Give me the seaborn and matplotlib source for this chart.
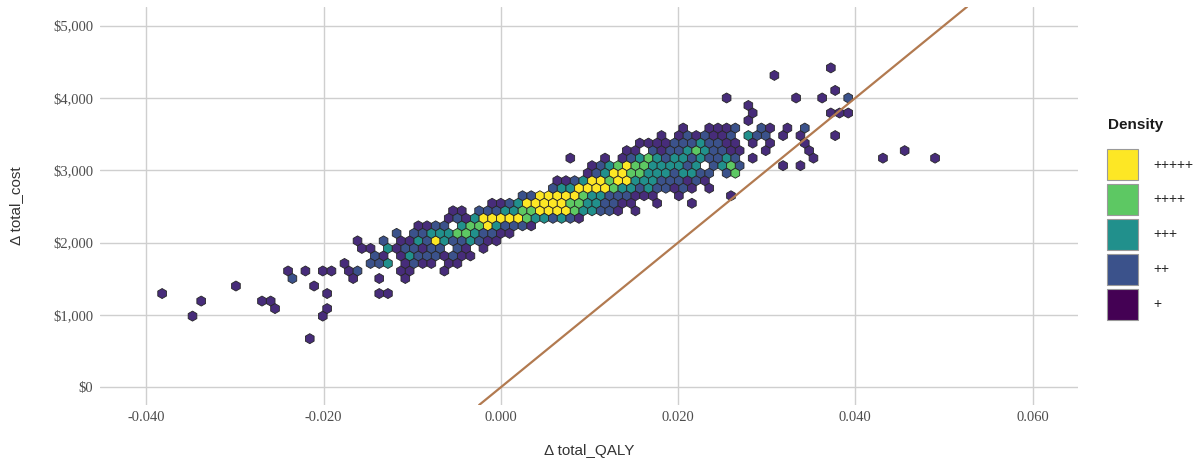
import numpy as np
import pandas as pd
import seaborn as sns
import matplotlib.pyplot as plt
import matplotlib.ticker as ticker
from matplotlib.colors import ListedColormap
from matplotlib.patches import Patch

# Hexagon bins of the incremental cost / QALY cloud.
# One entry per row of bins: the row's delta cost, the delta QALY of each
# occupied bin in that row and its density class (1 = "+" ... 5 = "+++++").
row_cost = [672, 984, 1088, 1192, 1296, 1400, 1504, 1608, 1712, 1816, 1920,
            2024, 2128, 2232, 2336, 2440, 2544, 2648, 2752, 2856, 2960, 3064,
            3168, 3272, 3376, 3480, 3584, 3688, 3792, 3896, 4000, 4104, 4312,
            4416]

row_qaly = [
    [-0.0216],
    [-0.0348, -0.0201],
    [-0.0255, -0.0196],
    [-0.0338, -0.0270, -0.0260],
    [-0.0382, -0.0196, -0.0137, -0.0127],
    [-0.0299, -0.0211],
    [-0.0235, -0.0167, -0.0137, -0.0108],
    [-0.0240, -0.0221, -0.0201, -0.0191, -0.0172, -0.0162, -0.0113, -0.0103, -0.0064],
    [-0.0176, -0.0147, -0.0137, -0.0127, -0.0108, -0.0098, -0.0088, -0.0078, -0.0059, -0.0049],
    [-0.0142, -0.0132, -0.0113, -0.0103, -0.0093, -0.0083, -0.0074, -0.0064, -0.0054, -0.0044,
     -0.0034],
    [-0.0157, -0.0147, -0.0127, -0.0118, -0.0108, -0.0098, -0.0088, -0.0078, -0.0069, -0.0049,
     -0.0039, -0.0020],
    [-0.0162, -0.0132, -0.0113, -0.0103, -0.0093, -0.0083, -0.0074, -0.0064, -0.0054, -0.0044,
     -0.0034, -0.0025, -0.0015, -0.0005],
    [-0.0118, -0.0098, -0.0088, -0.0078, -0.0069, -0.0059, -0.0049, -0.0039, -0.0029, -0.0020,
     -0.0010, 0.0, 0.0010],
    [-0.0093, -0.0083, -0.0074, -0.0064, -0.0044, -0.0034, -0.0025, -0.0015, -0.0005, 0.0005,
     0.0015, 0.0025, 0.0034],
    [-0.0059, -0.0049, -0.0039, -0.0029, -0.0020, -0.0010, 0.0, 0.0010, 0.0020, 0.0029,
     0.0039, 0.0049, 0.0059, 0.0069, 0.0078, 0.0088],
    [-0.0054, -0.0044, -0.0025, -0.0015, -0.0005, 0.0005, 0.0015, 0.0025, 0.0034, 0.0044,
     0.0054, 0.0064, 0.0074, 0.0083, 0.0093, 0.0103, 0.0113, 0.0123, 0.0132, 0.0152],
    [-0.0010, 0.0, 0.0010, 0.0020, 0.0029, 0.0039, 0.0049, 0.0059, 0.0069, 0.0078,
     0.0088, 0.0098, 0.0108, 0.0118, 0.0127, 0.0137, 0.0147, 0.0176, 0.0216],
    [0.0025, 0.0034, 0.0044, 0.0054, 0.0064, 0.0074, 0.0083, 0.0093, 0.0103, 0.0113,
     0.0123, 0.0132, 0.0142, 0.0152, 0.0162, 0.0172, 0.0201, 0.0260],
    [0.0059, 0.0069, 0.0078, 0.0088, 0.0098, 0.0108, 0.0118, 0.0127, 0.0137, 0.0147,
     0.0157, 0.0167, 0.0176, 0.0186, 0.0196, 0.0206, 0.0216, 0.0235],
    [0.0064, 0.0074, 0.0083, 0.0093, 0.0103, 0.0113, 0.0123, 0.0132, 0.0142, 0.0152,
     0.0162, 0.0172, 0.0181, 0.0191, 0.0201, 0.0211, 0.0221, 0.0230],
    [0.0098, 0.0108, 0.0118, 0.0127, 0.0137, 0.0147, 0.0157, 0.0167, 0.0176, 0.0186,
     0.0196, 0.0206, 0.0216, 0.0225, 0.0235, 0.0255, 0.0265],
    [0.0103, 0.0113, 0.0123, 0.0132, 0.0142, 0.0152, 0.0162, 0.0172, 0.0181, 0.0191,
     0.0201, 0.0211, 0.0221, 0.0240, 0.0250, 0.0260, 0.0270, 0.0319, 0.0338],
    [0.0078, 0.0118, 0.0137, 0.0147, 0.0157, 0.0167, 0.0176, 0.0186, 0.0196, 0.0206,
     0.0216, 0.0225, 0.0235, 0.0245, 0.0255, 0.0265, 0.0284, 0.0353, 0.0431, 0.0490],
    [0.0142, 0.0152, 0.0172, 0.0181, 0.0191, 0.0201, 0.0211, 0.0221, 0.0230, 0.0240,
     0.0250, 0.0260, 0.0270, 0.0299, 0.0348, 0.0456],
    [0.0157, 0.0167, 0.0176, 0.0186, 0.0196, 0.0206, 0.0216, 0.0225, 0.0235, 0.0245,
     0.0255, 0.0265, 0.0284, 0.0304, 0.0343],
    [0.0181, 0.0201, 0.0211, 0.0221, 0.0230, 0.0240, 0.0250, 0.0260, 0.0279, 0.0289,
     0.0299, 0.0319, 0.0338, 0.0377],
    [0.0206, 0.0235, 0.0245, 0.0255, 0.0265, 0.0294, 0.0304, 0.0323, 0.0343],
    [0.0279],
    [0.0284, 0.0372, 0.0382, 0.0392],
    [0.0279],
    [0.0255, 0.0333, 0.0363, 0.0392],
    [0.0377],
    [0.0309],
    [0.0372],
]

row_level = [
    [1],
    [1, 1],
    [1, 1],
    [1, 1, 1],
    [1, 1, 1, 1],
    [1, 1],
    [2, 1, 1, 1],
    [1, 1, 1, 1, 1, 2, 1, 1, 1],
    [1, 2, 2, 3, 1, 2, 1, 1, 1, 1],
    [2, 1, 1, 3, 2, 2, 2, 1, 2, 1, 1],
    [1, 1, 3, 1, 2, 2, 1, 2, 2, 2, 1, 1],
    [1, 2, 1, 1, 3, 2, 5, 3, 2, 2, 3, 2, 1, 1],
    [2, 2, 2, 3, 3, 3, 4, 4, 3, 2, 2, 1, 1],
    [1, 1, 2, 2, 3, 4, 4, 5, 3, 2, 2, 2, 1],
    [1, 2, 1, 3, 5, 5, 5, 5, 5, 4, 3, 3, 2, 3, 2, 1],
    [1, 1, 2, 2, 2, 3, 3, 4, 4, 5, 5, 5, 5, 4, 3, 3, 2, 2, 1, 1],
    [1, 1, 2, 3, 5, 5, 5, 5, 5, 4, 4, 3, 3, 2, 2, 1, 1, 1, 1],
    [2, 2, 5, 5, 5, 5, 5, 4, 3, 3, 2, 2, 2, 1, 1, 1, 1, 1],
    [2, 3, 3, 5, 5, 5, 5, 4, 3, 3, 2, 3, 2, 2, 1, 2, 1, 1],
    [1, 1, 2, 3, 5, 5, 4, 5, 5, 3, 3, 3, 2, 2, 2, 1, 2, 1],
    [1, 2, 3, 5, 5, 4, 4, 3, 3, 3, 2, 3, 3, 2, 2, 2, 4],
    [1, 2, 3, 4, 5, 4, 4, 3, 3, 3, 3, 2, 3, 2, 3, 4, 2, 1, 1],
    [1, 1, 1, 2, 3, 4, 3, 2, 3, 3, 2, 3, 2, 2, 3, 2, 1, 1, 1, 1],
    [1, 1, 2, 1, 2, 2, 3, 4, 3, 2, 2, 1, 1, 1, 1, 1],
    [1, 1, 1, 1, 2, 2, 2, 3, 2, 2, 1, 1, 1, 1, 1],
    [1, 1, 2, 1, 2, 1, 1, 2, 3, 2, 2, 1, 1, 1],
    [1, 1, 1, 1, 2, 2, 1, 1, 2],
    [1],
    [1, 1, 1, 1],
    [1],
    [1, 1, 1, 2],
    [1],
    [1],
    [1],
]

density_labels = ['+', '++', '+++', '++++', '+++++']
density_colors = ['#440154', '#3b528b', '#21908c', '#5dc863', '#fde725']
hex_colors = ['#472c7a', '#3b528b', '#21908c', '#5dc863', '#fde725']

wtp = 100000  # willingness to pay, $ per QALY

x_ticks = [-0.04, -0.02, 0.0, 0.02, 0.04, 0.06]
y_ticks = [0, 1000, 2000, 3000, 4000, 5000]

records = []
for cost, qalys, levels in zip(row_cost, row_qaly, row_level):
    for q, lev in zip(qalys, levels):
        records.append((q, cost, lev))
df = pd.DataFrame(records, columns=['d_qaly', 'd_cost', 'density'])

sns.set_theme(style='whitegrid')
plt.rcParams['font.family'] = ['Liberation Sans', 'DejaVu Sans']

fig = plt.figure(figsize=(11.96, 4.61), dpi=100)
ax = fig.add_axes([100 / 1196, 56 / 461, 978 / 1196, 398.3 / 461])

ax.hexbin(df['d_qaly'], df['d_cost'], C=df['density'],
          reduce_C_function=np.max,
          gridsize=(120, 20), extent=(-0.04851, 0.06909, 568, 4728),
          cmap=ListedColormap(hex_colors), vmin=0.5, vmax=5.5,
          edgecolors='#262626', linewidths=0.6, zorder=2)

ax.axline((0, 0), slope=wtp, color='#b27a50', linewidth=1.6, zorder=3)

ax.set_xlim(-0.04523, 0.06513)
ax.set_ylim(-245, 5262)
ax.set_xticks(x_ticks)
ax.set_yticks(y_ticks)
ax.xaxis.set_major_formatter(ticker.FuncFormatter(lambda v, p: f'{v:.3f}'))
ax.yaxis.set_major_formatter(ticker.FuncFormatter(lambda v, p: f'${v:,.0f}'))
ax.tick_params(axis='both', length=0, labelsize=10.5, labelcolor='#4d4d4d',
               labelfontfamily='Liberation Serif')
ax.tick_params(axis='y', pad=5)
ax.tick_params(axis='x', pad=4)
ax.grid(True, color='#cfcfcf', linewidth=1.0)
sns.despine(ax=ax, left=True, bottom=True)

ax.set_xlabel('Δ total_QALY', fontsize=11, color='#333333')
ax.set_ylabel('Δ total_cost', fontsize=11, color='#333333')
ax.xaxis.set_label_coords(0.5, -0.098)
ax.yaxis.set_label_coords(-0.079, 0.5)

handles = [Patch(facecolor=c, edgecolor='#9a9a9a', linewidth=0.8)
           for c in reversed(density_colors)]
fig.legend(handles, list(reversed(density_labels)), loc='upper left',
           bbox_to_anchor=(1107 / 1196, 1 - 149 / 461), frameon=False,
           borderpad=0, borderaxespad=0, fontsize=10,
           handlelength=2.23, handleheight=3.05, labelspacing=0.29,
           handletextpad=1.08)
fig.text(1108 / 1196, 1 - 125 / 461, 'Density', fontsize=11,
         fontweight='bold', color='#1a1a1a', ha='left', va='center')

fig.savefig('out.png', dpi=100)
